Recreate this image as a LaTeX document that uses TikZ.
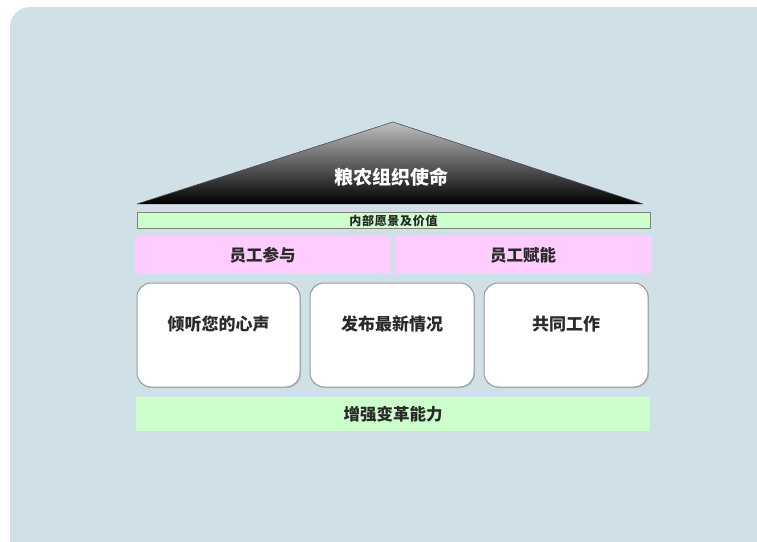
\documentclass[tikz,border=0pt]{standalone}
\usepackage{fontspec}
\newfontfamily\cjk{Noto Sans CJK SC}
\newfontfamily\cjkvis[LetterSpace=6]{Noto Sans CJK SC}
\usetikzlibrary{shadows}
\definecolor{bgblue}{HTML}{CFE0E7}
\definecolor{lgreen}{HTML}{CCFFCC}
\definecolor{lpink}{HTML}{FFCCFF}
\definecolor{txtgray}{HTML}{2A2A2A}
\begin{document}
\begin{tikzpicture}[x=1pt,y=-1pt,
  bar/.style={draw=none,inner sep=0pt,font=\cjk\bfseries\fontsize{16.5}{18}\selectfont,text=txtgray},
  card/.style={draw=gray!80,line width=1pt,fill=white,rounded corners=14pt,inner sep=0pt,
     drop shadow={shadow xshift=1pt,shadow yshift=-1pt,opacity=0.3}},
  cardtext/.style={font=\cjk\bfseries\fontsize{17}{19}\selectfont,text=txtgray}]
\useasboundingbox (0,0) rectangle (757,541);
\fill[white] (0,0) rectangle (757,541);
\fill[bgblue,rounded corners=20pt] (10,7) rectangle (790,580);
% roof
\shade[top color=gray!50,bottom color=black] (393,122) -- (643,204) -- (137,204) -- cycle;
\draw[black!70,line width=0.6pt] (137,204) -- (393,122) -- (643,204);
\node[font=\cjk\bfseries\fontsize{19}{21}\selectfont,text=white] (mission) at (391,177) {粮农组织使命};
% vision bar
\node[draw=gray,line width=1pt,fill=lgreen,minimum width=513pt,minimum height=16pt,inner sep=0pt,
  font=\cjkvis\bfseries\fontsize{12}{14}\selectfont,text=black!85] (vision) at (393.5,220.5) {内部愿景及价值};
% pink bars
\node[bar,fill=lpink,minimum width=255pt,minimum height=38pt] (engage) at (262.5,255) {员工参与};
\node[bar,fill=lpink,minimum width=256pt,minimum height=38pt] (empower) at (523,255) {员工赋能};
% cards
\draw[card] (137,283) rectangle (300,387);
\draw[card] (310,283) rectangle (474,387);
\draw[card] (484,283) rectangle (648,387);
\node[cardtext] (listen) at (218.5,324) {倾听您的心声};
\node[cardtext] (update) at (392,324) {发布最新情况};
\node[cardtext] (work) at (566,324) {共同工作};
% bottom bar
\node[bar,fill=lgreen,minimum width=514pt,minimum height=34pt] (change) at (393,414) {增强变革能力};
\end{tikzpicture}
\end{document}
